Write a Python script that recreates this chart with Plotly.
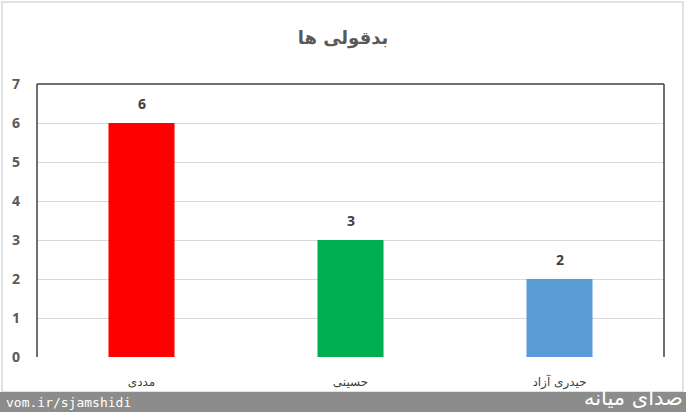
import plotly.graph_objects as go

categories = ["مددی", "حسینی", "حیدری آزاد"]
values = [6, 3, 2]
colors = ["#FF0000", "#00B050", "#5B9BD5"]
y_ticks = [0, 1, 2, 3, 4, 5, 6, 7]
title_text = "بدقولی ها"
watermark_left = "vom.ir/sjamshidi"
watermark_right = "صدای میانه"

W, H = 686, 412
L, R, T, B = 37, 22, 84, 55
pw, ph = W - L - R, H - T - B

def px_x(x):
    return (x - L) / pw

def px_y(y):
    return (H - B - y) / ph

fig = go.Figure()
fig.add_trace(go.Bar(
    x=categories, y=values, marker=dict(color=colors, line=dict(width=0)),
    width=0.316, hoverinfo="skip",
))

for c, v in zip(categories, values):
    fig.add_annotation(x=c, y=v, text="<b>%d</b>" % v, showarrow=False,
                       yanchor="bottom", yshift=8,
                       font=dict(family="Open Sans", size=14, color="#404040"))

shapes = []
for (x0, y0, x1, y1) in [(0, 0, 0, 1), (0, 1, 1, 1), (1, 0, 1, 1)]:
    shapes.append(dict(type="line", xref="paper", yref="paper", x0=x0, y0=y0, x1=x1, y1=y1,
                       line=dict(color="#404040", width=1.5)))
shapes.append(dict(type="rect", xref="paper", yref="paper",
                   x0=px_x(2), x1=px_x(683), y0=px_y(392), y1=px_y(2),
                   line=dict(color="#d9d9d9", width=1.5), layer="below"))
shapes.append(dict(type="rect", xref="paper", yref="paper",
                   x0=px_x(-2), x1=px_x(688), y0=px_y(414), y1=px_y(392),
                   line=dict(width=0), fillcolor="#8c8c8c"))

fig.add_annotation(xref="paper", yref="paper", x=px_x(4), y=px_y(402),
                   xanchor="left", yanchor="middle", showarrow=False,
                   text=watermark_left,
                   font=dict(family="DejaVu Sans Mono", size=13, color="white"))
fig.add_annotation(xref="paper", yref="paper", x=px_x(685), y=px_y(398),
                   xanchor="right", yanchor="middle", showarrow=False,
                   text=watermark_right,
                   font=dict(family="DejaVu Sans", size=21, color="white"))

fig.update_layout(
    width=W, height=H,
    margin=dict(l=L, r=R, t=T, b=B),
    paper_bgcolor="white", plot_bgcolor="white",
    showlegend=False,
    shapes=shapes,
    title=dict(text="<b>" + title_text + "</b>", x=0.5, xref="container", xanchor="center",
               y=1 - 38 / H, yref="container", yanchor="middle",
               font=dict(family="DejaVu Sans", size=18, color="#595959")),
    bargap=0.684,
)
fig.update_yaxes(range=[0, 7], tickvals=y_ticks, showgrid=True, gridcolor="#d9d9d9",
                 gridwidth=1, zeroline=False, showline=False,
                 ticklabelstandoff=16,
                 tickfont=dict(family="Open Sans", size=14, color="#595959", weight="bold"))
fig.update_xaxes(showgrid=False, zeroline=False, showline=False, ticks="",
                 ticklabelstandoff=16,
                 tickfont=dict(family="DejaVu Sans", size=12, color="#404040"))

fig.write_html("out.html", config={"displayModeBar": False},
               post_script="document.body.style.margin='0';document.body.style.overflow='hidden';")
